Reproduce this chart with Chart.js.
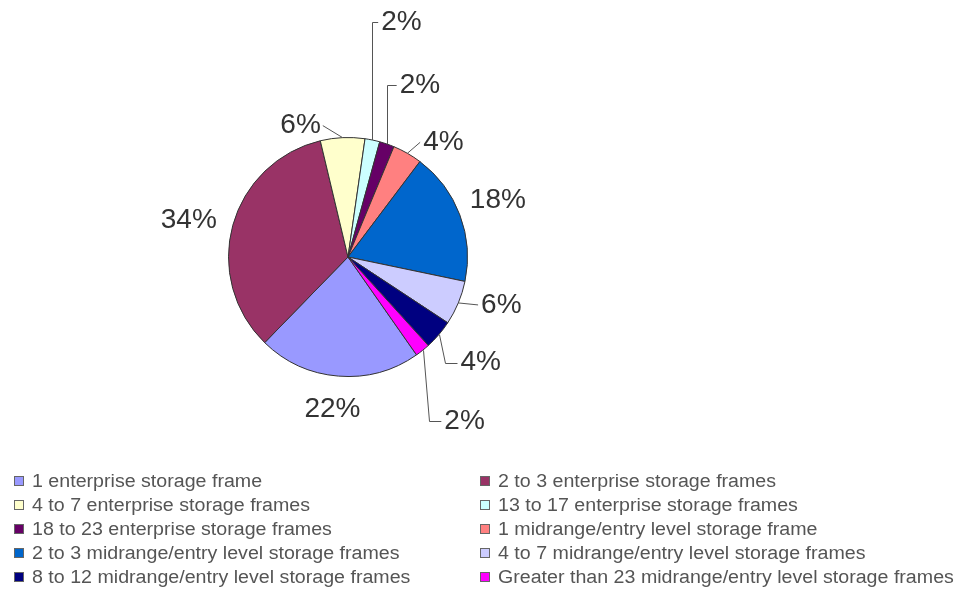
<!DOCTYPE html>
<html>
<head>
<meta charset="utf-8">
<script src="https://cdn.jsdelivr.net/npm/chart.js@4/dist/chart.umd.min.js"></script>
<style>
    html, body { margin: 0; padding: 0; background: #fff; }
    #wrap { width: 967px; height: 590px; position: relative; }
</style>
</head>
<body>
<div id="wrap"><canvas id="storageChart"></canvas></div>
<script>
// storage frame distribution pie
const categories = [
    "1 enterprise storage frame",
    "2 to 3 enterprise storage frames",
    "4 to 7 enterprise storage frames",
    "13 to 17 enterprise storage frames",
    "18 to 23 enterprise storage frames",
    "1 midrange/entry level storage frame",
    "2 to 3 midrange/entry level storage frames",
    "4 to 7 midrange/entry level storage frames",
    "8 to 12 midrange/entry level storage frames",
    "Greater than 23 midrange/entry level storage frames"
];
const shares = [22, 34, 6, 2, 2, 4, 18, 6, 4, 2];
const sliceColors = [
    "#9999FF", "#993366", "#FFFFCC", "#CCFFFF", "#660066",
    "#FF8080", "#0066CC", "#CCCCFF", "#000080", "#FF00FF"
];

// where each percent label sits, relative to the slice's outer edge point
const labelShift = [
    [-6, 33], [-44, -5], [-42, -12], [29, -118], [33, -59],
    [36, -11], [38, -15], [43, 2], [42, 28], [42, 71]
];
// leader style per label: none, straight line, or vertical-then-horizontal
const leaderKind = [
    "none", "none", "straight", "elbow", "elbow",
    "straight", "none", "straight", "elbow", "elbow"
];

const pctLabels = {
    id: "pctLabels",
    afterDatasetsDraw(chart) {
        const ctx = chart.ctx;
        const arcs = chart.getDatasetMeta(0).data;
        ctx.save();
        ctx.font = "28px 'Liberation Sans', Arial, sans-serif";
        ctx.fillStyle = "#333";
        ctx.strokeStyle = "#555";
        ctx.lineWidth = 1;
        ctx.textAlign = "center";
        ctx.textBaseline = "middle";
        arcs.forEach((arc, i) => {
            const mid = (arc.startAngle + arc.endAngle) / 2;
            const ex = arc.x + Math.cos(mid) * arc.outerRadius;
            const ey = arc.y + Math.sin(mid) * arc.outerRadius;
            const lx = ex + labelShift[i][0];
            const ly = ey + labelShift[i][1];
            const text = shares[i] + "%";
            const w = ctx.measureText(text).width;

            ctx.beginPath();
            if (leaderKind[i] === "elbow") {
                const left = lx - w / 2 - 3;
                const lean = ly > ey ? 6 : 0;
                ctx.moveTo(Math.round(ex) + 0.5, ey);
                ctx.lineTo(Math.round(ex + lean) + 0.5, Math.round(ly) + 0.5);
                ctx.lineTo(left, Math.round(ly) + 0.5);
                ctx.stroke();
            } else if (leaderKind[i] === "straight") {
                const side = lx < ex ? lx + w / 2 + 2 : lx - w / 2 - 3;
                ctx.moveTo(ex, ey);
                ctx.lineTo(side, ly);
                ctx.stroke();
            }
            ctx.fillText(text, lx, ly);
        });
        ctx.restore();
    }
};

const gridLegend = {
    id: "gridLegend",
    afterDraw(chart) {
        const ctx = chart.ctx;
        ctx.save();
        ctx.font = "18px 'Liberation Sans', Arial, sans-serif";
        ctx.textBaseline = "middle";
        ctx.textAlign = "left";
        categories.forEach((name, i) => {
            const col = i % 2;
            const row = Math.floor(i / 2);
            const bx = col ? 480 : 14;
            const y = 481 + row * 24;
            ctx.fillStyle = sliceColors[i];
            ctx.fillRect(bx, y - 5, 10, 10);
            ctx.strokeStyle = "#666";
            ctx.strokeRect(bx + 0.5, y - 4.5, 9, 9);
            ctx.save();
            ctx.translate(bx + 18, y + 1);
            ctx.scale(1.09, 1);
            ctx.fillStyle = "#555";
            ctx.fillText(name, 0, 0);
            ctx.restore();
        });
        ctx.restore();
    }
};

new Chart(document.getElementById("storageChart").getContext("2d"), {
    type: "pie",
    data: {
        labels: categories,
        datasets: [{
            data: shares,
            backgroundColor: sliceColors,
            borderColor: "#333",
            borderWidth: 1
        }]
    },
    options: {
        responsive: true,
        maintainAspectRatio: false,
        animation: false,
        rotation: 145,
        layout: { padding: { left: 228, right: 499, top: 137, bottom: 213 } },
        plugins: {
            legend: { display: false },
            tooltip: { enabled: false }
        }
    },
    plugins: [pctLabels, gridLegend]
});
</script>
</body>
</html>
